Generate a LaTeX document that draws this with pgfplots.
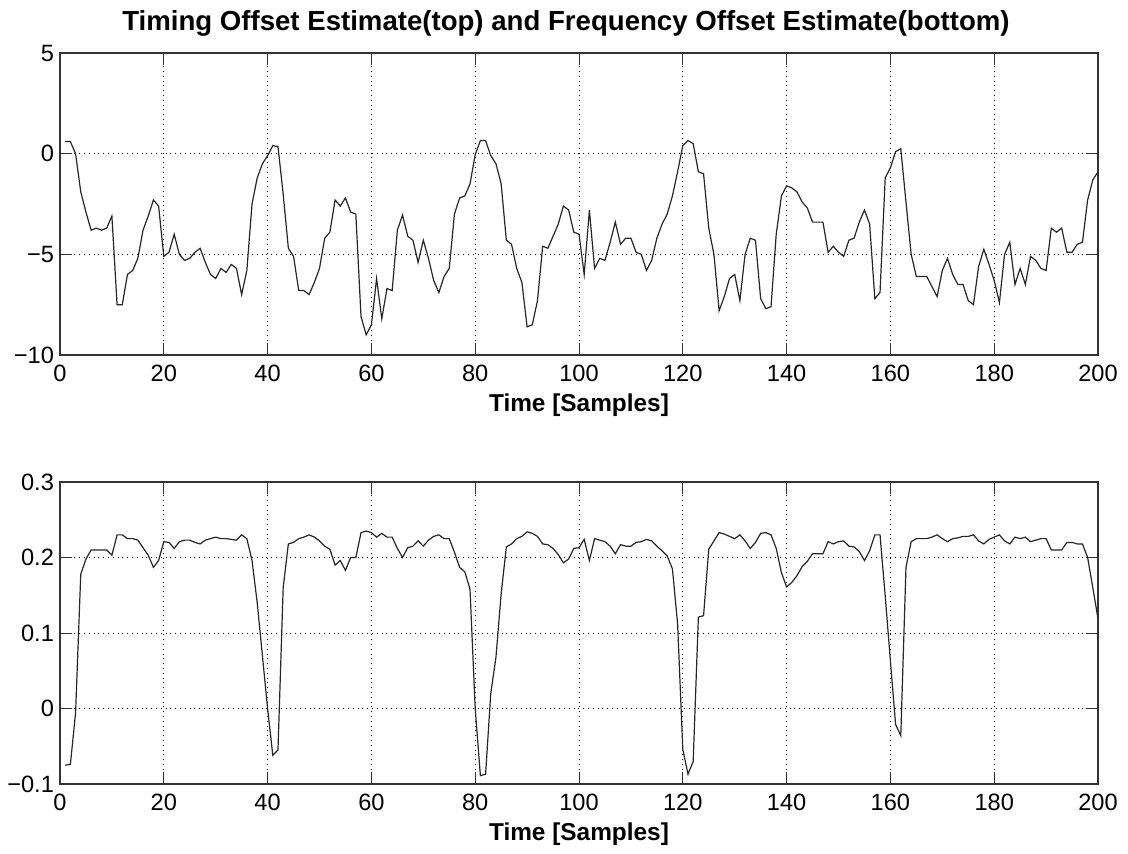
\documentclass[border=0pt]{standalone}
\usepackage{pgfplots}
\pgfplotsset{compat=1.18}
\usepackage{fontspec}
\setmainfont{Liberation Sans}
\pgfplotstableread{
x y
1 0.6
2 0.6
3 0.0
4 -1.9
5 -2.9
6 -3.8
7 -3.7
8 -3.8
9 -3.7
10 -3.1
11 -7.5
12 -7.5
13 -6.0
14 -5.8
15 -5.2
16 -3.8
17 -3.1
18 -2.3
19 -2.6
20 -5.1
21 -4.9
22 -4.0
23 -5.0
24 -5.3
25 -5.2
26 -4.9
27 -4.7
28 -5.4
29 -6.0
30 -6.2
31 -5.7
32 -5.9
33 -5.5
34 -5.7
35 -7.0
36 -5.8
37 -2.5
38 -1.2
39 -0.5
40 -0.1
41 0.4
42 0.35
43 -2.0
44 -4.7
45 -5.1
46 -6.8
47 -6.8
48 -7.0
49 -6.4
50 -5.7
51 -4.2
52 -3.9
53 -2.3
54 -2.6
55 -2.2
56 -2.9
57 -3.0
58 -8.1
59 -9.0
60 -8.5
61 -6.2
62 -8.2
63 -6.7
64 -6.8
65 -3.8
66 -3.05
67 -4.1
68 -4.3
69 -5.4
70 -4.3
71 -5.2
72 -6.3
73 -6.9
74 -6.1
75 -5.7
76 -3.0
77 -2.2
78 -2.1
79 -1.5
80 -0.05
81 0.65
82 0.65
83 -0.1
84 -0.5
85 -1.5
86 -4.3
87 -4.5
88 -5.7
89 -6.4
90 -8.6
91 -8.5
92 -7.3
93 -4.6
94 -4.7
95 -4.1
96 -3.5
97 -2.6
98 -2.8
99 -3.9
100 -4.0
101 -6.0
102 -2.8
103 -5.7
104 -5.2
105 -5.3
106 -4.4
107 -3.4
108 -4.5
109 -4.2
110 -4.2
111 -4.9
112 -5.0
113 -5.8
114 -5.3
115 -4.2
116 -3.5
117 -3.0
118 -2.1
119 -0.9
120 0.4
121 0.65
122 0.5
123 -0.9
124 -1.0
125 -3.7
126 -5.0
127 -7.8
128 -7.1
129 -6.2
130 -6.0
131 -7.3
132 -5.0
133 -4.2
134 -4.3
135 -7.2
136 -7.7
137 -7.6
138 -4.0
139 -2.1
140 -1.6
141 -1.7
142 -1.9
143 -2.4
144 -2.7
145 -3.4
146 -3.4
147 -3.4
148 -4.9
149 -4.6
150 -4.9
151 -5.1
152 -4.3
153 -4.2
154 -3.4
155 -2.8
156 -3.5
157 -7.2
158 -6.9
159 -1.2
160 -0.7
161 0.1
162 0.25
163 -2.4
164 -5.0
165 -6.1
166 -6.1
167 -6.1
168 -6.6
169 -7.1
170 -5.8
171 -5.2
172 -6.0
173 -6.5
174 -6.5
175 -7.3
176 -7.5
177 -5.6
178 -4.75
179 -5.5
180 -6.3
181 -7.4
182 -5.0
183 -4.4
184 -6.5
185 -5.7
186 -6.5
187 -5.1
188 -5.3
189 -5.7
190 -5.8
191 -3.7
192 -3.9
193 -3.7
194 -4.9
195 -4.9
196 -4.5
197 -4.4
198 -2.3
199 -1.3
200 -0.9
}\timing
\pgfplotstableread{
x y
1 -0.075
2 -0.074
3 -0.006
4 0.178
5 0.198
6 0.21
7 0.21
8 0.21
9 0.21
10 0.203
11 0.23
12 0.23
13 0.225
14 0.225
15 0.223
16 0.213
17 0.203
18 0.187
19 0.196
20 0.221
21 0.22
22 0.212
23 0.221
24 0.223
25 0.223
26 0.22
27 0.218
28 0.223
29 0.225
30 0.227
31 0.225
32 0.225
33 0.224
34 0.223
35 0.23
36 0.225
37 0.196
38 0.14
39 0.07
40 0.0
41 -0.062
42 -0.055
43 0.16
44 0.218
45 0.22
46 0.225
47 0.227
48 0.23
49 0.227
50 0.222
51 0.215
52 0.211
53 0.19
54 0.196
55 0.183
56 0.2
57 0.2
58 0.233
59 0.235
60 0.233
61 0.227
62 0.232
63 0.227
64 0.227
65 0.212
66 0.2
67 0.213
68 0.215
69 0.222
70 0.215
71 0.223
72 0.228
73 0.23
74 0.225
75 0.225
76 0.207
77 0.187
78 0.181
79 0.158
80 0.0
81 -0.089
82 -0.087
83 0.02
84 0.068
85 0.152
86 0.214
87 0.218
88 0.225
89 0.228
90 0.234
91 0.232
92 0.228
93 0.218
94 0.217
95 0.212
96 0.204
97 0.193
98 0.198
99 0.212
100 0.213
101 0.224
102 0.196
103 0.225
104 0.223
105 0.221
106 0.215
107 0.205
108 0.217
109 0.215
110 0.215
111 0.22
112 0.221
113 0.224
114 0.222
115 0.215
116 0.209
117 0.202
118 0.185
119 0.112
120 -0.054
121 -0.087
122 -0.07
123 0.121
124 0.123
125 0.211
126 0.222
127 0.233
128 0.231
129 0.228
130 0.225
131 0.23
132 0.222
133 0.212
134 0.22
135 0.232
136 0.233
137 0.23
138 0.212
139 0.18
140 0.161
141 0.167
142 0.176
143 0.188
144 0.195
145 0.205
146 0.205
147 0.205
148 0.221
149 0.218
150 0.221
151 0.222
152 0.215
153 0.214
154 0.208
155 0.196
156 0.209
157 0.23
158 0.23
159 0.149
160 0.063
161 -0.021
162 -0.036
163 0.187
164 0.221
165 0.225
166 0.225
167 0.225
168 0.227
169 0.23
170 0.225
171 0.221
172 0.225
173 0.226
174 0.228
175 0.228
176 0.23
177 0.222
178 0.218
179 0.224
180 0.227
181 0.23
182 0.222
183 0.218
184 0.227
185 0.225
186 0.227
187 0.221
188 0.223
189 0.225
190 0.225
191 0.21
192 0.21
193 0.21
194 0.22
195 0.22
196 0.218
197 0.218
198 0.2
199 0.16
200 0.119
}\freq
\pgfplotsset{
  mystyle/.style={
    scale only axis,
    width=519pt, height=151pt,
    xmin=0, xmax=200,
    xtick={0,20,...,200},
    tick align=inside,
    major tick length=6pt,
    grid=major,
    major grid style={black, dotted, line width=0.5pt},
    axis line style={black!80, line width=0.6pt},
    tick style={black!80, line width=0.5pt},
    ticklabel style={font=\fontsize{11.8}{12}\selectfont},
    /pgf/number format/assume math mode=true,
    xlabel={\textbf{Time [Samples]}},
    xlabel style={font=\fontsize{12.2}{13}\selectfont, at={(axis description cs:0.5,0)}, anchor=base, yshift=-28pt},
    xticklabel style={yshift=-1.5pt},
    yticklabel style={xshift=0.5pt},
    scaled y ticks=false,
  }
}
\begin{document}
\begin{tikzpicture}
\path[use as bounding box] (0pt,0pt) rectangle (564pt,426.5pt);
\node[font=\bfseries\fontsize{13.8}{15}\selectfont, anchor=base] at (283pt,411pt) {Timing Offset Estimate(top) and Frequency Offset Estimate(bottom)};
\begin{axis}[mystyle, at={(30pt,249pt)}, anchor=south west,
  ymin=-10, ymax=5, ytick={-10,-5,0,5}, yticklabels={−10,−5,0,5}]
\addplot[black!85, line width=0.6pt] table[x=x,y=y] {\timing};
\end{axis}
\begin{axis}[mystyle, at={(30pt,34.5pt)}, anchor=south west,
  ymin=-0.1, ymax=0.3, ytick={-0.1,0,0.1,0.2,0.3},
  yticklabels={−0.1,0,0.1,0.2,0.3}]
\addplot[black!85, line width=0.6pt] table[x=x,y=y] {\freq};
\end{axis}
\end{tikzpicture}
\end{document}
